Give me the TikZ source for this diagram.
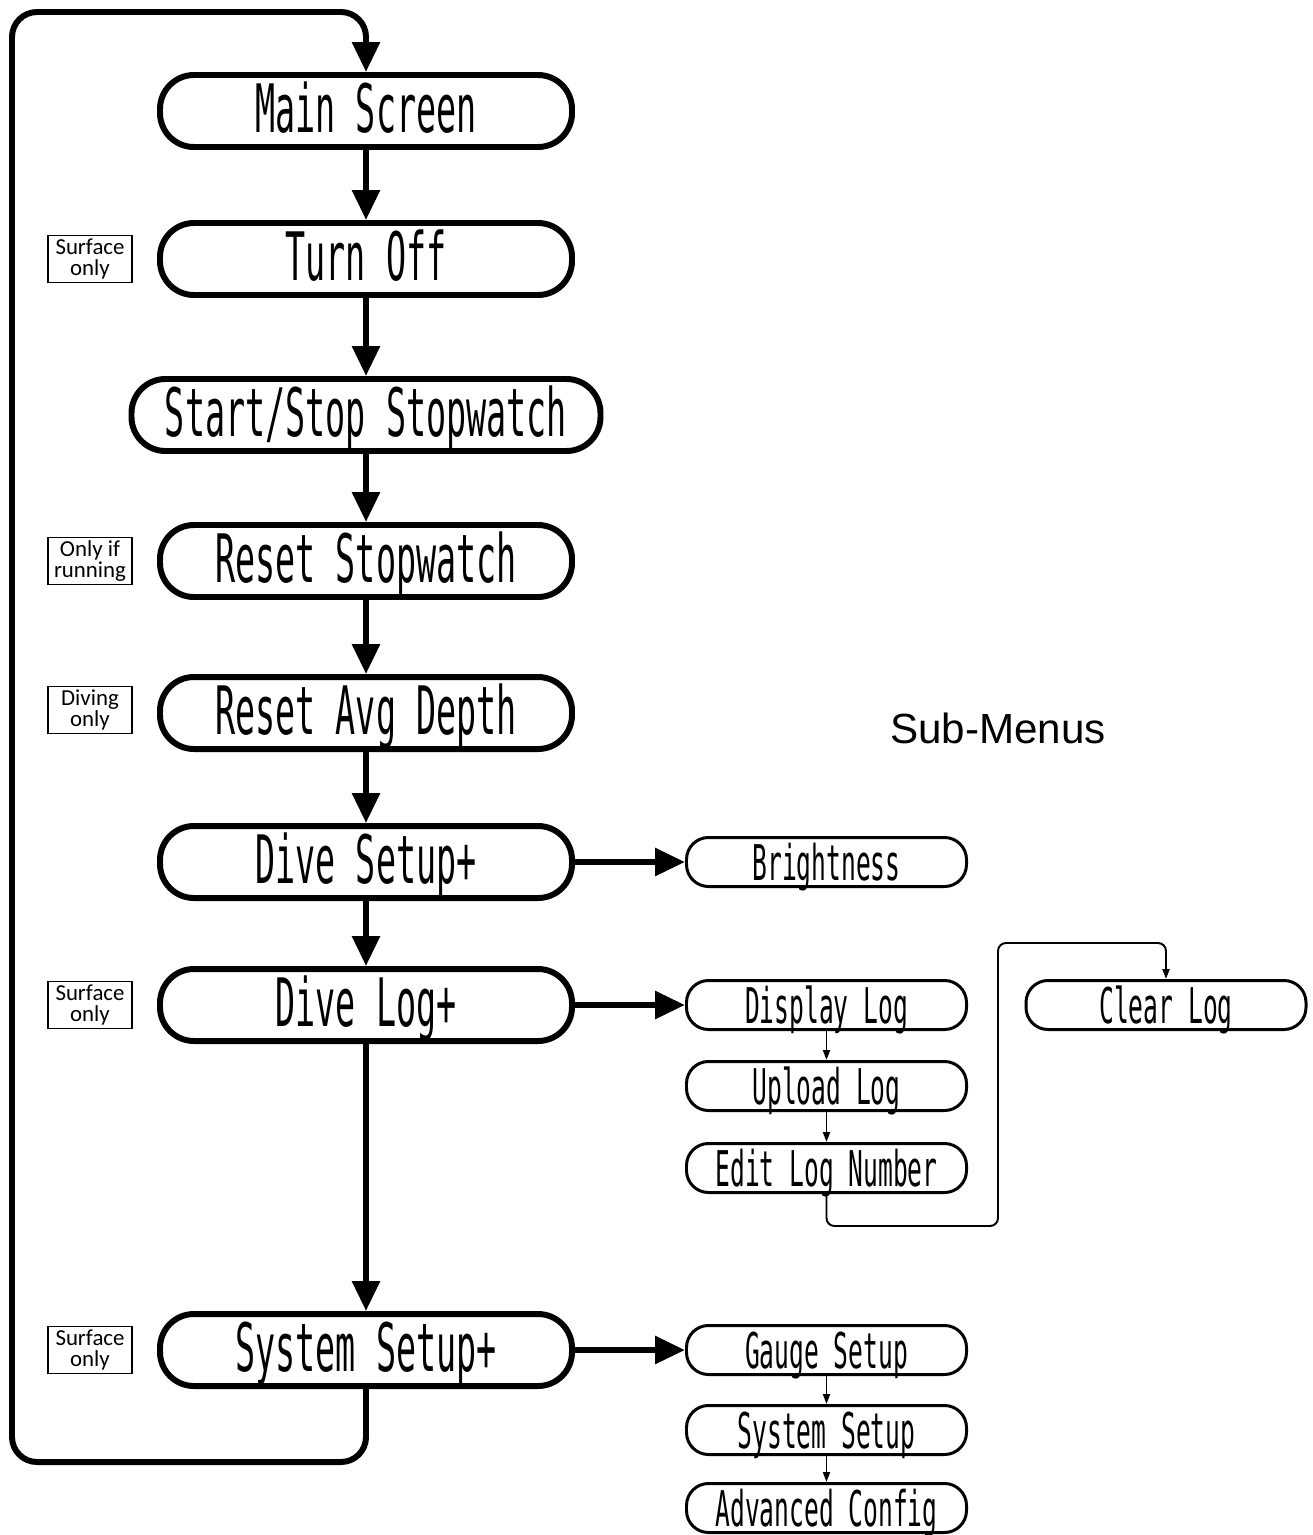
\documentclass[tikz,border=0pt]{standalone}
\usepackage{fontspec}
\usepackage{tikz}
\usetikzlibrary{arrows.meta, positioning, calc}
\newfontfamily\lcdfont[FakeStretch=0.5]{DejaVu Sans Mono}
\newfontfamily\notefont{Carlito}
\newfontfamily\labelfont{Liberation Sans}

\begin{document}
\begin{tikzpicture}[
    mainbox/.style={draw,line width=1.7pt,rounded corners=0.34cm,
                minimum width=4.12cm,minimum height=0.72cm,inner sep=0pt,
                font={\lcdfont\fontsize{19pt}{19pt}\selectfont},
                text height=0.49cm,text depth=0.06cm},
    subbox/.style={draw,line width=0.85pt,rounded corners=0.22cm,
                minimum width=2.8cm,minimum height=0.49cm,inner sep=0pt,
                font={\lcdfont\fontsize{14pt}{14pt}\selectfont},
                text height=0.36cm,text depth=0cm},
    notebox/.style={draw,line width=0.4pt,minimum width=0.84cm,
                minimum height=0.47cm,inner sep=0pt,align=center,
                font={\notefont\fontsize{6.5pt}{5.8pt}\selectfont}},
    arr/.style={-{Triangle[length=0.3cm,width=0.27cm]},line width=1.7pt},
    thinarr/.style={-{Triangle[length=0.1cm,width=0.07cm]},line width=0.55pt}
  ]
    \useasboundingbox (0,0) rectangle (13.12,-15.35);

    % Main menu column
    \node[mainbox] (main)      at (3.66,-1.11)  {Main Screen};
    \node[mainbox] (turnoff)   at (3.66,-2.59)  {Turn Off};
    \node[mainbox,minimum width=4.69cm] (stopwatch) at (3.66,-4.15)
      {Start/Stop Stopwatch};
    \node[mainbox] (resetsw)   at (3.66,-5.61)  {Reset Stopwatch};
    \node[mainbox] (resetavg)  at (3.66,-7.13)  {Reset Avg Depth};
    \node[mainbox] (divesetup) at (3.66,-8.62)  {Dive Setup+};
    \node[mainbox] (divelog)   at (3.66,-10.05) {Dive Log+};
    \node[mainbox] (syssetup)  at (3.66,-13.50) {System Setup+};
    \draw[arr] (main)--(turnoff); \draw[arr] (turnoff)--(stopwatch);
    \draw[arr] (stopwatch)--(resetsw); \draw[arr] (resetsw)--(resetavg);
    \draw[arr] (resetavg)--(divesetup); \draw[arr] (divesetup)--(divelog);
    \draw[arr] (divelog)--(syssetup);

    % loop back to the top
    \coordinate (loopbl) at (0.12,-14.62);
    \coordinate (looptl) at (0.12,-0.12);
    \draw[arr,rounded corners=0.25cm] (syssetup.south) |- (loopbl)
      -- (looptl) -| (main.north);

    % conditions
    \node[notebox] (n_turnoff)  at (0.90,-2.59)  {Surface\\only};
    \node[notebox] (n_resetsw)  at (0.90,-5.61)  {Only if\\running};
    \node[notebox] (n_resetavg) at (0.90,-7.10)  {Diving\\only};
    \node[notebox] (n_divelog)  at (0.90,-10.05) {Surface\\only};
    \node[notebox] (n_syssetup) at (0.90,-13.50) {Surface\\only};

    % Sub-menus
    \node[font={\labelfont\fontsize{12pt}{12pt}\selectfont}] (subtitle)
      at (9.98,-7.28) {Sub-Menus};
    \node[subbox] (bright)   at (8.265,-8.62)  {Brightness};
    \node[subbox] (displog)  at (8.265,-10.05) {Display Log};
    \node[subbox] (upload)   at (8.265,-10.86) {Upload Log};
    \node[subbox] (editlog)  at (8.265,-11.68) {Edit Log Number};
    \node[subbox] (clearlog) at (11.66,-10.05) {Clear Log};
    \node[subbox] (gauge)    at (8.265,-13.50) {Gauge Setup};
    \node[subbox] (syssub)   at (8.265,-14.30) {System Setup};
    \node[subbox] (advcfg)   at (8.265,-15.08) {Advanced Config};
    \draw[arr] (divesetup)--(bright); \draw[arr] (divelog)--(displog);
    \draw[arr] (syssetup)--(gauge);
    \draw[thinarr] (displog)--(upload); \draw[thinarr] (upload)--(editlog);
    \draw[thinarr] (gauge)--(syssub); \draw[thinarr] (syssub)--(advcfg);
    \coordinate (jbot) at (9.98,-12.26);
    \coordinate (jtop) at (9.98,-9.43);
    \draw[thinarr,rounded corners=0.08cm] (editlog.south) |- (jbot)
      -- (jtop) -| (clearlog.north);
  \end{tikzpicture}
\end{document}
